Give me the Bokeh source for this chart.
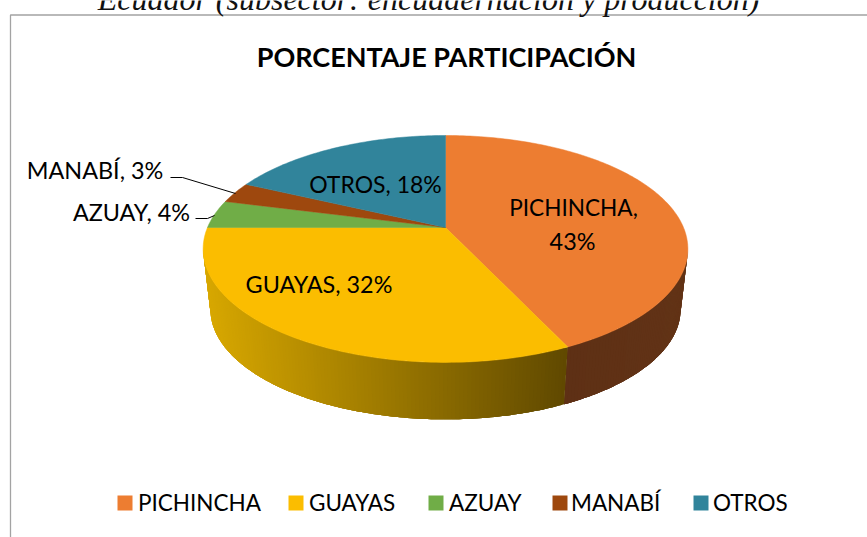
import math
from bokeh.plotting import figure
from bokeh.models import Range1d
from bokeh.core.properties import value
from bokeh.embed import file_html
from bokeh.resources import INLINE

# ---- data ----
provincias = ["PICHINCHA", "GUAYAS", "AZUAY", "MANABÍ", "OTROS"]
porcentajes = [43, 32, 4, 3, 18]
colores = ["#ED7D31", "#FBBD00", "#70AD47", "#9E480E", "#31849B"]
titulo = "PORCENTAJE PARTICIPACIÓN"
encabezado = "Ecuador (subsector: encuadernación y producción)"

W, H = 867, 537
p = figure(width=W, height=H, output_backend="svg", toolbar_location=None,
           x_range=Range1d(0, W), y_range=Range1d(H, 0), min_border=0,
           outline_line_color=None, background_fill_color="white",
           border_fill_color="white")
p.xaxis.visible = False
p.yaxis.visible = False
p.grid.visible = False

FONT = value("Lato")

# ---- perspective disc ----
CX, CY = 445.0, 227.0
SX, SY, A = 238.0, 109.4, 0.189
F_BOTTOM, CY_BOTTOM = 0.97, 288.0


def top_pt(t):
    x, y = math.sin(t), -math.cos(t)
    d = 1 - A * y
    return SX * x / d, SY * y / d


def top_xy(t):
    u, v = top_pt(t)
    return CX + u, CY + v


def bottom_xy(t):
    u, v = top_pt(t)
    return CX + F_BOTTOM * u, CY_BOTTOM + F_BOTTOM * v


def mix(c1, c2, f):
    f = max(0.0, min(1.0, f))
    return "#%02x%02x%02x" % tuple(round(a + (b - a) * f) for a, b in zip(c1, c2))


total = sum(porcentajes)
edges = [0.0]
for v in porcentajes:
    edges.append(edges[-1] + v / total * 2 * math.pi)

# side wall, drawn as narrow overlapping strips so it can carry the shading,
# which runs linearly across each slice's horizontal extent
t_right = math.pi / 2 + math.asin(A)
t_left = 3 * math.pi / 2 - math.asin(A)
wall_spans = [
    (t_right, edges[1], (0x62, 0x33, 0x16), (0x5e, 0x30, 0x15)),
    (edges[1], t_left, (0x60, 0x49, 0x00), (0xd8, 0xa8, 0x00)),
]
xs, ys, cs = [], [], []
for t0, t1, c0, c1 in wall_spans:
    n = max(8, int((t1 - t0) / math.radians(0.8)))
    step = (t1 - t0) / n
    x0, x1 = top_xy(t0)[0], top_xy(t1)[0]
    for i in range(n):
        a = t0 + step * i
        # each strip runs on under the next one, which hides the seams
        m = min(n - i, 4)
        ts = [a + step * k for k in range(m + 1)]
        top = [top_xy(t) for t in ts]
        bot = [bottom_xy(t) for t in reversed(ts)]
        xs.append([q[0] for q in top + bot])
        ys.append([q[1] for q in top + bot])
        cs.append(mix(c0, c1, (top_xy(a + step / 2)[0] - x0) / (x1 - x0)))
p.patches(xs, ys, fill_color=cs, line_color=None)

# top face
for i, col in enumerate(colores):
    t0, t1 = edges[i], edges[i + 1]
    n = max(8, int((t1 - t0) / math.radians(1)))
    pts = [top_xy(t0 + (t1 - t0) * k / n) for k in range(n + 1)]
    p.patch([CX] + [q[0] for q in pts], [CY] + [q[1] for q in pts],
            fill_color=col, line_color=col, line_width=0.5)

# frame of the chart
p.line([10, 10, W], [H, 14.5, 14.5], line_color="#a3a3a3", line_width=1.3)

# clipped heading that belongs to the surrounding page
p.text([428], [-2], text=[encabezado], text_font=value("Liberation Serif"),
       text_font_style="italic", text_font_size="32px", text_color="#111111",
       text_align="center", text_baseline="middle")

p.text([446], [55.5], text=[titulo], text_font=FONT, text_font_style="bold",
       text_font_size="27px", text_color="black", text_align="center",
       text_baseline="middle")

# leader lines
p.line([170, 182, 235], [177, 177, 193], line_color="black", line_width=1)
p.line([195, 207, 214], [218, 218, 215], line_color="black", line_width=1)

# data labels
lab = [f"{n}, {v}%" for n, v in zip(provincias, porcentajes)]
LAB = dict(text_font=FONT, text_color="black", text_align="center", text_baseline="middle")
p.text([573], [207], text=[lab[0].split(" ")[0]], text_font_size="22.6px", **LAB)
p.text([572], [240], text=[lab[0].split(" ")[1]], text_font_size="23.4px", **LAB)
p.text([318.5], [283], text=[lab[1]], text_font_size="23.4px", **LAB)
p.text([131], [211], text=[lab[2]], text_font_size="23.4px", **LAB)
p.text([94.5], [169], text=[lab[3]], text_font_size="23.4px", **LAB)
p.text([375], [183], text=[lab[4]], text_font_size="23px", **LAB)

# legend
sq_left = [117, 288, 428, 552, 693]
tx_left = [137.5, 308.5, 448.5, 570.5, 712.5]
p.quad(left=sq_left, right=[s + 15 for s in sq_left],
       top=[495] * 5, bottom=[510] * 5, fill_color=colores, line_color=None)
p.text(tx_left, [501.5] * 5, text=provincias, text_font=FONT, text_font_size="22.5px",
       text_color="black", text_align="left", text_baseline="middle")

open("out.html", "w").write(file_html(p, INLINE))
